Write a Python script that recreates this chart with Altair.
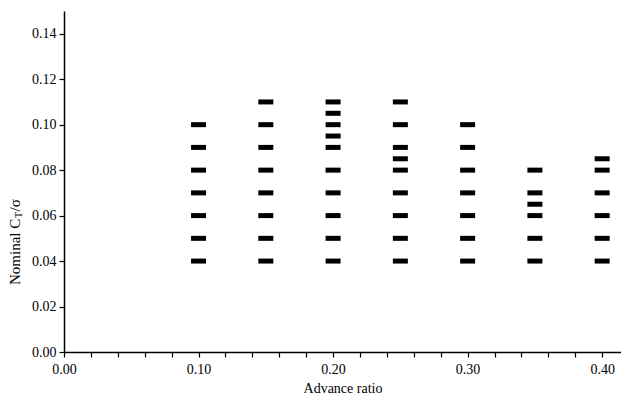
import altair as alt
import pandas as pd

# Test points: advance ratio -> nominal CT/sigma values
advance_ratios = [0.10, 0.15, 0.20, 0.25, 0.30, 0.35, 0.40]
ct_010 = [0.04, 0.05, 0.06, 0.07, 0.08, 0.09, 0.10]
ct_015 = [0.04, 0.05, 0.06, 0.07, 0.08, 0.09, 0.10, 0.11]
ct_020 = [0.04, 0.05, 0.06, 0.07, 0.08, 0.09, 0.095, 0.10, 0.105, 0.11]
ct_025 = [0.04, 0.05, 0.06, 0.07, 0.08, 0.085, 0.09, 0.10, 0.11]
ct_030 = [0.04, 0.05, 0.06, 0.07, 0.08, 0.09, 0.10]
ct_035 = [0.04, 0.05, 0.06, 0.065, 0.07, 0.08]
ct_040 = [0.04, 0.05, 0.06, 0.07, 0.08, 0.085]
ct_columns = [ct_010, ct_015, ct_020, ct_025, ct_030, ct_035, ct_040]

x_ticks = [0.00, 0.02, 0.04, 0.06, 0.08, 0.10, 0.12, 0.14, 0.16, 0.18, 0.20,
           0.22, 0.24, 0.26, 0.28, 0.30, 0.32, 0.34, 0.36, 0.38, 0.40]
y_ticks = [0.00, 0.02, 0.04, 0.06, 0.08, 0.10, 0.12, 0.14]

rows = []
for mu, cts in zip(advance_ratios, ct_columns):
    for c in cts:
        rows.append({"mu": mu, "ct": c})
df = pd.DataFrame(rows)
one = pd.DataFrame({"k": [0]})

FONT = "Liberation Serif"

points = alt.Chart(df).mark_tick(
    orient="horizontal", size=15, thickness=5, color="black", opacity=1
).encode(
    x=alt.X("mu:Q",
            scale=alt.Scale(domain=[0, 0.414], nice=False, zero=False),
            axis=alt.Axis(values=x_ticks, title="Advance ratio",
                          labelExpr="abs(datum.value*10 - round(datum.value*10)) < 0.001 ? format(datum.value, '.2f') : ''",
                          grid=False, tickSize=5, labelPadding=5, labelFlush=False,
                          titlePadding=5)),
    y=alt.Y("ct:Q",
            scale=alt.Scale(domain=[0, 0.15], nice=False),
            axis=alt.Axis(values=y_ticks, format=".2f", title=None,
                          grid=False, tickSize=5, labelPadding=3, labelFlush=False)),
)

title_main = alt.Chart(one).mark_text(
    angle=270, align="left", baseline="middle", font=FONT, fontSize=15, color="black"
).encode(x=alt.value(-49), y=alt.value(274), text=alt.value("Nominal C"))

title_sub = alt.Chart(one).mark_text(
    angle=270, align="left", baseline="middle", font=FONT, fontSize=10, color="black"
).encode(x=alt.value(-45), y=alt.value(207), text=alt.value("T"))

title_end = alt.Chart(one).mark_text(
    angle=270, align="left", baseline="middle", font=FONT, fontSize=15, color="black"
).encode(x=alt.value(-49), y=alt.value(200.5), text=alt.value("/σ"))

chart = alt.layer(points, title_main, title_sub, title_end).properties(
    width=557, height=341,
    autosize=alt.AutoSizeParams(type="none"),
    padding={"left": 64, "top": 11, "right": 0, "bottom": 50},
    background="white",
).configure_view(stroke=None).configure_axis(
    domainColor="black", domainWidth=1.5, tickColor="black", tickWidth=1.2,
    labelFont=FONT, labelFontSize=14, labelColor="black",
    titleFont=FONT, titleFontSize=14, titleColor="black", titleFontWeight="normal",
)

chart.save("out.html", embed_options={"renderer": "svg", "actions": False})
